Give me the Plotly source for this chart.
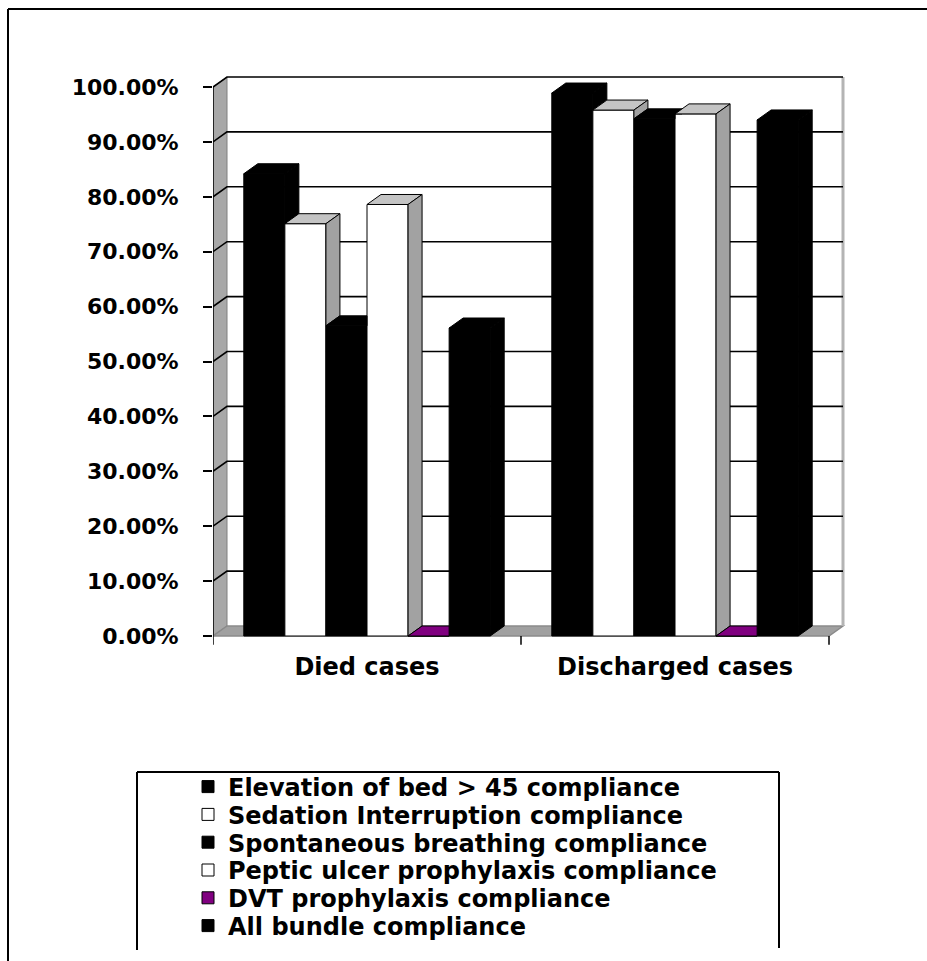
import plotly.graph_objects as go

# ---- data -------------------------------------------------------------
categories = ["Died cases", "Discharged cases"]
series_names = [
    "Elevation of bed > 45 compliance",
    "Sedation Interruption compliance",
    "Spontaneous breathing compliance",
    "Peptic ulcer prophylaxis compliance",
    "DVT prophylaxis compliance",
    "All bundle compliance",
]
elevation_bed = [84.2, 98.9]
sedation_interruption = [75.1, 95.8]
spontaneous_breathing = [56.5, 94.2]
peptic_ulcer = [78.6, 95.1]
dvt_prophylaxis = [0.0, 0.0]
all_bundle = [56.1, 94.0]
y_ticks = [0, 10, 20, 30, 40, 50, 60, 70, 80, 90, 100]
y_tick_labels = [f"{v:.2f}%" for v in y_ticks]

series_values = [elevation_bed, sedation_interruption, spontaneous_breathing,
                 peptic_ulcer, dvt_prophylaxis, all_bundle]

# face colours per series: (front, top, side)
face_colors = [
    ("#000000", "#000000", "#000000"),
    ("#ffffff", "#c4c4c4", "#a2a2a2"),
    ("#000000", "#000000", "#000000"),
    ("#ffffff", "#c4c4c4", "#a2a2a2"),
    ("#800080", "#800080", "#5a005a"),
    ("#000000", "#000000", "#000000"),
]

# ---- geometry of the pseudo-3D box ---------------------------------------
FIG_W, FIG_H = 927, 961
PLOT_L, PLOT_R, PLOT_T, PLOT_B = 213, 846, 75, 650
PX_PER_CAT = 308.0
PX_PER_PCT = 5.49
X0 = -0.5
XR = [X0, X0 + (PLOT_R - PLOT_L) / PX_PER_CAT]
YR = [-(PLOT_B - 636) / PX_PER_PCT, 100 + (87 - PLOT_T) / PX_PER_PCT]
DX = 14 / PX_PER_CAT        # depth offset, x
DY = 10 / PX_PER_PCT        # depth offset, y
GROUP_W = 0.8
W = GROUP_W / len(series_values)
X_END = X0 + len(categories)

FONT = "DejaVu Sans"
LEGEND_ROW0 = 787
LEGEND_STEP = 27.8


def px_x(px):
    return (px - PLOT_L) / (PLOT_R - PLOT_L)


def px_y(py):
    return (PLOT_B - py) / (PLOT_B - PLOT_T)


def legend_id(i):
    return "legend" if i == 0 else f"legend{i + 1}"


fig = go.Figure()

# front faces
for i, (name, vals) in enumerate(zip(series_names, series_values)):
    off = (i - (len(series_values) - 1) / 2) * W
    fig.add_trace(go.Bar(
        x=[g + off for g in range(len(categories))],
        y=vals,
        width=W,
        name=name,
        legend=legend_id(i),
        marker=dict(color=face_colors[i][0], line=dict(color="#000000", width=1)),
        hovertemplate="%{y:.2f}%<extra>" + name + "</extra>",
    ))

# top and side faces, hidden parts removed where the right-hand neighbour covers them
n = len(series_values)
for g in range(len(categories)):
    for i in range(n):
        v = series_values[i][g]
        off = (i - (n - 1) / 2) * W
        L = g + off - W / 2
        R = g + off + W / 2
        nxt = series_values[i + 1][g] if i + 1 < n else None
        _, top_c, side_c = face_colors[i]

        # top face
        if nxt is None or nxt <= v:
            tx = [L, R, R + DX, L + DX, L]
            ty = [v, v, v + DY, v + DY, v]
        elif nxt >= v + DY:
            tx = [L, R, R, L + DX, L]
            ty = [v, v, v + DY, v + DY, v]
        else:
            xs = R + (nxt - v) / DY * DX
            tx = [L, R, R, xs, R + DX, L + DX, L]
            ty = [v, v, nxt, nxt, v + DY, v + DY, v]
        fig.add_trace(go.Scatter(
            x=tx, y=ty, mode="lines", fill="toself", fillcolor=top_c,
            line=dict(color="#000000", width=1), showlegend=False, hoverinfo="skip",
        ))

        # right side face (visible band above the neighbour)
        base = 0.0 if nxt is None else nxt
        if v > base:
            sx = [R, R + DX, R + DX, R, R]
            sy = [base, base + DY, v + DY, v, base]
            fig.add_trace(go.Scatter(
                x=sx, y=sy, mode="lines", fill="toself", fillcolor=side_c,
                line=dict(color="#000000", width=1), showlegend=False, hoverinfo="skip",
            ))

shapes = []
# left side wall
shapes.append(dict(
    type="path", xref="x", yref="y", layer="below",
    path=f"M {X0},0 L {X0 + DX},{DY} L {X0 + DX},{100 + DY} L {X0},100 Z",
    fillcolor="#a8a8a8", line=dict(color="#808080", width=1),
))
# floor
shapes.append(dict(
    type="path", xref="x", yref="y", layer="below",
    path=f"M {X0},0 L {X_END},0 L {X_END + DX},{DY} L {X0 + DX},{DY} Z",
    fillcolor="#a0a0a0", line=dict(color="#8a8a8a", width=1.5),
))
# back wall right edge
shapes.append(dict(
    type="line", xref="x", yref="y", layer="below",
    x0=X_END + DX, x1=X_END + DX, y0=DY, y1=100 + DY,
    line=dict(color="#b4b4b4", width=3),
))
# gridlines on side and back walls
for v in y_ticks[1:]:
    shapes.append(dict(
        type="path", xref="x", yref="y", layer="below",
        path=f"M {X0},{v} L {X0 + DX},{v + DY} L {X_END + DX},{v + DY}",
        line=dict(color="#000000", width=1.6),
    ))
# front value axis
shapes.append(dict(
    type="line", xref="x", yref="y", layer="below",
    x0=X0, x1=X0, y0=0, y1=100, line=dict(color="#000000", width=1.5),
))
# category boundary ticks
for k in range(len(categories) + 1):
    shapes.append(dict(
        type="line", xref="x", yref="y", layer="above",
        x0=X0 + k, x1=X0 + k, y0=0, y1=-1.6, line=dict(color="#000000", width=1.5),
    ))

# outer frame (top and left edges)
shapes.append(dict(type="line", xref="paper", yref="paper",
                   x0=px_x(8), x1=px_x(927), y0=px_y(9), y1=px_y(9),
                   line=dict(color="#000000", width=2)))
shapes.append(dict(type="line", xref="paper", yref="paper",
                   x0=px_x(8), x1=px_x(8), y0=px_y(9), y1=px_y(961),
                   line=dict(color="#000000", width=2)))
# legend box
shapes.append(dict(type="line", xref="paper", yref="paper",
                   x0=px_x(137), x1=px_x(779), y0=px_y(772), y1=px_y(772),
                   line=dict(color="#000000", width=2)))
shapes.append(dict(type="line", xref="paper", yref="paper",
                   x0=px_x(137), x1=px_x(137), y0=px_y(772), y1=px_y(950),
                   line=dict(color="#000000", width=2)))
shapes.append(dict(type="line", xref="paper", yref="paper",
                   x0=px_x(779), x1=px_x(779), y0=px_y(772), y1=px_y(948),
                   line=dict(color="#000000", width=2)))

# one single-entry legend per series so the rows can sit tightly together
legends = {}
for i in range(n):
    legends[legend_id(i)] = dict(
        x=px_x(188), y=px_y(LEGEND_ROW0 + i * LEGEND_STEP),
        xanchor="left", yanchor="middle",
        bgcolor="rgba(0,0,0,0)", borderwidth=0,
        itemclick=False, itemdoubleclick=False, itemwidth=30,
        font=dict(family=FONT, size=24, color="#000000", weight="bold"),
    )

fig.update_layout(
    template="none",
    width=FIG_W, height=FIG_H,
    margin=dict(l=PLOT_L, r=FIG_W - PLOT_R, t=PLOT_T, b=FIG_H - PLOT_B, pad=0, autoexpand=False),
    paper_bgcolor="#ffffff", plot_bgcolor="#ffffff",
    barmode="overlay",
    showlegend=True,
    xaxis=dict(
        range=XR, tickvals=list(range(len(categories))), ticktext=categories,
        showgrid=False, zeroline=False, showline=False, ticks="",
        tickfont=dict(family=FONT, size=24, color="#000000", weight="bold"),
        automargin=False, fixedrange=True,
    ),
    yaxis=dict(
        range=YR, tickvals=y_ticks, ticktext=y_tick_labels,
        showgrid=False, zeroline=False, showline=False,
        ticks="outside", ticklen=9, tickwidth=1.5, tickcolor="#000000",
        ticklabelstandoff=20,
        tickfont=dict(family=FONT, size=22, color="#000000", weight="bold"),
        automargin=False, fixedrange=True,
    ),
    shapes=shapes,
    **legends,
)

fig.write_html("out.html")
